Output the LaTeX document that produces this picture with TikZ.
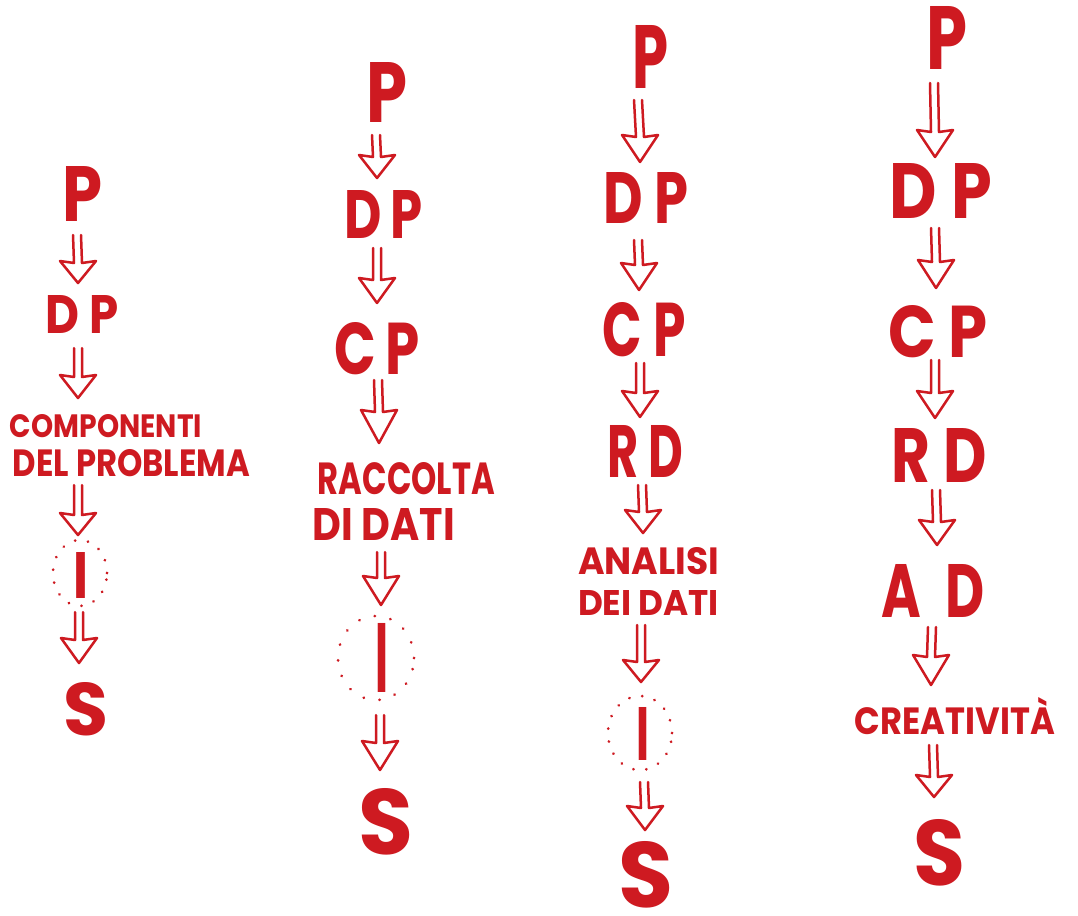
\documentclass[tikz,border=0pt]{standalone}
\usepackage{fontspec}
\setmainfont{Poppins}
\usepackage{graphicx}
\usetikzlibrary{calc,shapes.geometric}
\definecolor{inkred}{RGB}{206,26,33}
\newcommand\hwtxt[3]{\resizebox{#1pt}{#2pt}{\bfseries #3}}
\begin{document}
\begin{tikzpicture}[x=1pt,y=-1pt,
  lbl/.style={inner sep=0pt, outer sep=0pt, text=inkred},
  harrow/.style={draw=inkred, line width=2.5pt, line join=round, line cap=round,
    to path={let \p1=(\tikztostart), \p2=(\tikztotarget) in
      (\x1-4pt,\y1) -- (\x2-4pt,\y2+#1) -- (\x2-18pt,\y2+#1+2pt) -- (\x2,\y2)
      -- (\x2+18pt,\y2+#1+2pt) -- (\x2+4pt,\y2+#1) -- (\x1+4pt,\y1)}},
  harrow/.default=24pt,
  dotring/.style={draw=inkred, ellipse, inner sep=0pt, outer sep=0pt, line width=3pt,
    line cap=round, dash pattern=on 0.01pt off 13pt}
]
\fill[white] (0,0) rectangle (1078,915);
\useasboundingbox (0,0) rectangle (1078,915);

% ---------- column 1 ----------
\node[lbl] (P1) at (83,194) {\hwtxt{40}{55}{P}};
\node[lbl] (DP1) at (82,314) {\hwtxt{73}{38}{D P}};
\node[lbl] (CO1a) at (106,426.5) {\hwtxt{192}{23}{COMPONENTI}};
\node[lbl] (CO1b) at (131.5,463.5) {\hwtxt{237}{27}{DEL PROBLEMA}};
\node[lbl] (I1) at (81.5,575) {\hwtxt{15}{46}{I}};
\node[dotring, minimum width=54pt, minimum height=66pt] (R1) at (80,573) {};
\node[lbl] (S1) at (86,709) {\hwtxt{45}{53}{S}};
\coordinate (a11s) at (77,235);  \coordinate (a11e) at (78,283);
\coordinate (a12s) at (78,348);  \coordinate (a12e) at (78,398);
\coordinate (a13s) at (78,485);  \coordinate (a13e) at (78,535);
\coordinate (a14s) at (79,612);  \coordinate (a14e) at (79,663);
\draw[harrow=20pt] (a11s) to (a11e);
\draw[harrow=21pt] (a12s) to (a12e);
\draw[harrow=20pt] (a13s) to (a13e);
\draw[harrow=23pt] (a14s) to (a14e);

% ---------- column 2 ----------
\node[lbl] (P2) at (387,92) {\hwtxt{41}{60}{P}};
\node[lbl] (DP2) at (384,214) {\hwtxt{78}{48}{D\,P}};
\node[lbl] (CP2) at (377,349) {\hwtxt{85}{52}{C\,P}};
\node[lbl] (RA2a) at (406.5,479) {\hwtxt{177}{32}{RACCOLTA}};
\node[lbl] (RA2b) at (384,524) {\hwtxt{142}{32}{DI DATI}};
\node[lbl] (I2) at (381.5,657.5) {\hwtxt{13}{69}{I}};
\node[dotring, minimum width=76pt, minimum height=84pt, dash pattern=on 0.01pt off 16pt] (R2) at (376,658) {};
\node[lbl] (S2) at (386,822) {\hwtxt{55}{66}{S}};
\coordinate (a21s) at (376,135);  \coordinate (a21e) at (377,178);
\coordinate (a22s) at (377,248);  \coordinate (a22e) at (377,303);
\coordinate (a23s) at (378,380);  \coordinate (a23e) at (379,443);
\coordinate (a24s) at (381,552);  \coordinate (a24e) at (381,605);
\coordinate (a25s) at (380,715);  \coordinate (a25e) at (380,770);
\draw[harrow=21pt] (a21s) to (a21e);
\draw[harrow=23pt] (a22s) to (a22e);
\draw[harrow=31pt] (a23s) to (a23e);
\draw[harrow=27pt] (a24s) to (a24e);
\draw[harrow=27pt] (a25s) to (a25e);

% ---------- column 3 ----------
\node[lbl] (P3) at (650,57) {\hwtxt{36}{63}{P}};
\node[lbl] (DP3) at (646,198) {\hwtxt{85}{51}{D P}};
\node[lbl] (CP3) at (644,330) {\hwtxt{83}{54}{C P}};
\node[lbl] (RD3) at (645,451) {\hwtxt{76}{52}{R D}};
\node[lbl] (AN3a) at (648.5,561.5) {\hwtxt{141}{27}{ANALISI}};
\node[lbl] (AN3b) at (648.5,602.5) {\hwtxt{141}{25}{DEI DATI}};
\node[lbl] (I3) at (642.5,733.5) {\hwtxt{13}{53}{I}};
\node[dotring, minimum width=64pt, minimum height=74pt] (R3) at (640,733) {};
\node[lbl] (S3) at (646,875) {\hwtxt{55}{66}{S}};
\coordinate (a31s) at (638,100);  \coordinate (a31e) at (640,162);
\coordinate (a32s) at (638,240);  \coordinate (a32e) at (639,290);
\coordinate (a33s) at (640,363);  \coordinate (a33e) at (640,417);
\coordinate (a34s) at (642,485);  \coordinate (a34e) at (643,533);
\coordinate (a35s) at (641,625);  \coordinate (a35e) at (641,682);
\coordinate (a36s) at (644,782);  \coordinate (a36e) at (645,830);
\draw[harrow=25pt] (a31s) to (a31e);
\draw[harrow=25pt] (a32s) to (a32e);
\draw[harrow=24pt] (a33s) to (a33e);
\draw[harrow=21pt] (a34s) to (a34e);
\draw[harrow=20pt] (a35s) to (a35e);
\draw[harrow=22pt] (a36s) to (a36e);

% ---------- column 4 ----------
\node[lbl] (P4) at (947,38) {\hwtxt{41}{63}{P}};
\node[lbl] (DP4) at (941,191) {\hwtxt{102}{55}{D P}};
\node[lbl] (CP4) at (938,332) {\hwtxt{100}{52}{C P}};
\node[lbl] (RD4) at (939,455) {\hwtxt{95}{54}{R D}};
\node[lbl] (AD4) at (933,591) {\hwtxt{103}{53}{A\hspace{0.45em}D}};
\node[lbl] (CR4) at (955,716.5) {\hwtxt{200}{37}{CREATIVITÀ}};
\node[lbl] (S4) at (939,853) {\hwtxt{52}{66}{S}};
\coordinate (a41s) at (934,83);   \coordinate (a41e) at (935,157);
\coordinate (a42s) at (935,228);  \coordinate (a42e) at (936,288);
\coordinate (a43s) at (935,360);  \coordinate (a43e) at (935,418);
\coordinate (a44s) at (936,490);  \coordinate (a44e) at (937,545);
\coordinate (a45s) at (932,627);  \coordinate (a45e) at (931,685);
\coordinate (a46s) at (933,745);  \coordinate (a46e) at (934,797);
\draw[harrow=25pt] (a41s) to (a41e);
\draw[harrow=26pt] (a42s) to (a42e);
\draw[harrow=25pt] (a43s) to (a43e);
\draw[harrow=23pt] (a44s) to (a44e);
\draw[harrow=28pt] (a45s) to (a45e);
\draw[harrow=20pt] (a46s) to (a46e);
\end{tikzpicture}
\end{document}
